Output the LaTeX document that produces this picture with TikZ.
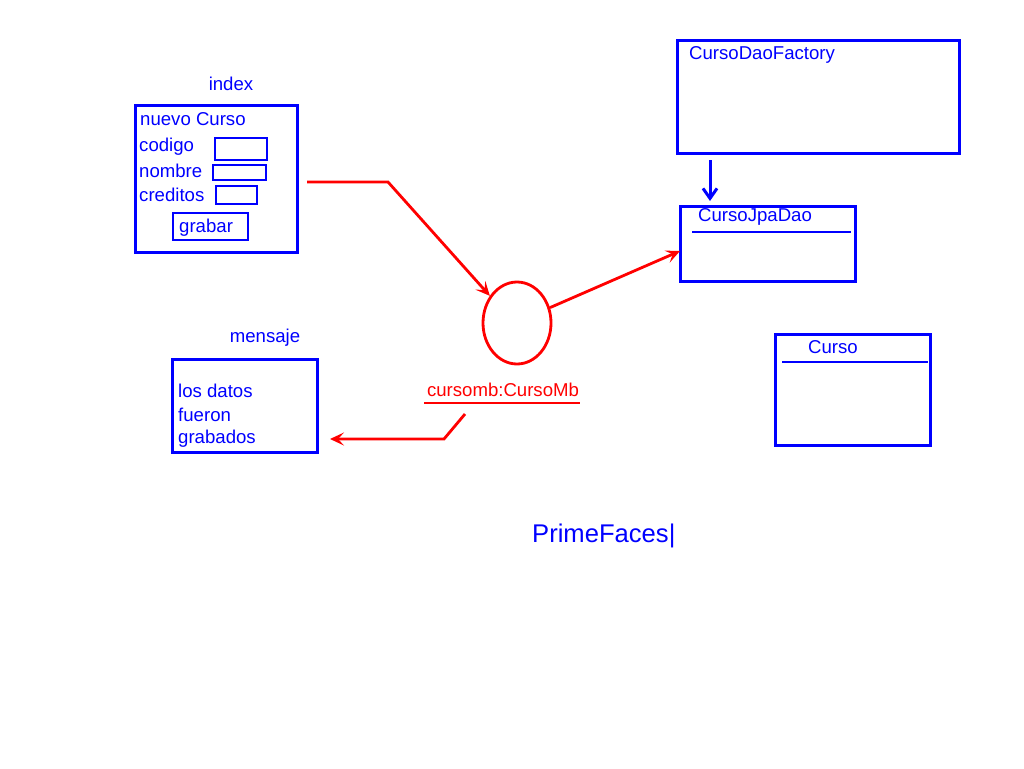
\documentclass[tikz,border=0pt]{standalone}
\usepackage{fontspec}
\setmainfont{Liberation Sans}
\usetikzlibrary{arrows.meta,positioning,shapes.geometric}
\definecolor{bl}{RGB}{0,0,255}
\definecolor{rd}{RGB}{255,0,0}
\tikzset{
  lbl/.style={text=bl,font=\fontsize{18.6}{20}\selectfont,inner sep=0pt,anchor=west},
  rlbl/.style={text=rd,font=\fontsize{18.6}{20}\selectfont,inner sep=0pt},
  bbox/.style={draw=bl,line width=3pt},
  sbox/.style={draw=bl,line width=2.5pt},
  rline/.style={draw=rd,line width=2.8pt},
  rarrow/.style={rline,-{Stealth[length=14pt,width=13pt,inset=6pt]}},
  barrow/.style={draw=bl,line width=3pt,-{Straight Barb[length=10pt,width=14pt,line width=3pt]}},
}
\begin{document}
\begin{tikzpicture}[x=1pt,y=-1pt]
\useasboundingbox[fill=white] (0,0) rectangle (1024,768);
% index form
\node[lbl,anchor=center] (indexlbl) at (231,84) {index};
\draw[bbox] (135,105) rectangle (297,252);
\coordinate (indexout) at (307,182);
\node[lbl] (nuevo) at (140,119) {nuevo Curso};
\node[lbl] (codigo) at (139,147) {codigo};
\draw[sbox] (215,138) rectangle (267,160);
\node[lbl] (nombre) at (139,171) {nombre};
\draw[sbox] (213,165) rectangle (266,180);
\node[lbl] (creditos) at (139,195) {creditos};
\draw[sbox] (216,186) rectangle (257,204);
\draw[sbox] (173,213) rectangle (248,240);
\node[lbl] (grabar) at (179,228) {grabar};
% mensaje
\node[lbl,anchor=center] (mensajelbl) at (265,338) {mensaje};
\draw[bbox] (172,359) rectangle (317,452);
\node[lbl] (l1) at (178,391) {los datos};
\node[lbl] (l2) at (178,415) {fueron};
\node[lbl] (l3) at (178,439) {grabados};
\coordinate (msgin) at (330,439);
% managed bean
\node[draw=rd,line width=2.8pt,ellipse,minimum width=68pt,minimum height=82pt,inner sep=0pt] (mb) at (517,323) {};
\node[rlbl] (mblbl) at (503,390) {cursomb:CursoMb};
\draw[rline] (424,403) -- (580,403);
\coordinate (bend1) at (388,182);
\draw[rarrow] (indexout) -- (bend1) -- (mb.135);
\coordinate (retstart) at (465,414);
\coordinate (bend2) at (444,439);
\draw[rarrow] (retstart) -- (bend2) -- (msgin);
% CursoDaoFactory
\draw[bbox] (677,41) rectangle (959,153);
\node[lbl] (factory) at (689,55) {CursoDaoFactory};
% CursoJpaDao
\draw[bbox] (680,206) rectangle (855,281);
\fill[white] (698,204) rectangle (780,205.3);
\node[lbl] (jpa) at (698,217) {CursoJpaDao};
\draw[bl,line width=2.5pt] (692,232) -- (851,232);
\coordinate (jpain) at (680,251);
\coordinate (facout) at (710,160);
\coordinate (jpatop) at (710,201);
\draw[barrow] (facout) -- (jpatop);
\draw[rarrow] (mb.25) -- (jpain);
% Curso
\draw[bbox] (775,334) rectangle (930,445);
\fill[white] (808,332) rectangle (855,333.3);
\node[lbl] (curso) at (808,347) {Curso};
\draw[bl,line width=2.5pt] (782,362) -- (928,362);
% PrimeFaces
\node[lbl,font=\fontsize{25.6}{28}\selectfont] (pf) at (532,536) {PrimeFaces|};
\end{tikzpicture}
\end{document}
